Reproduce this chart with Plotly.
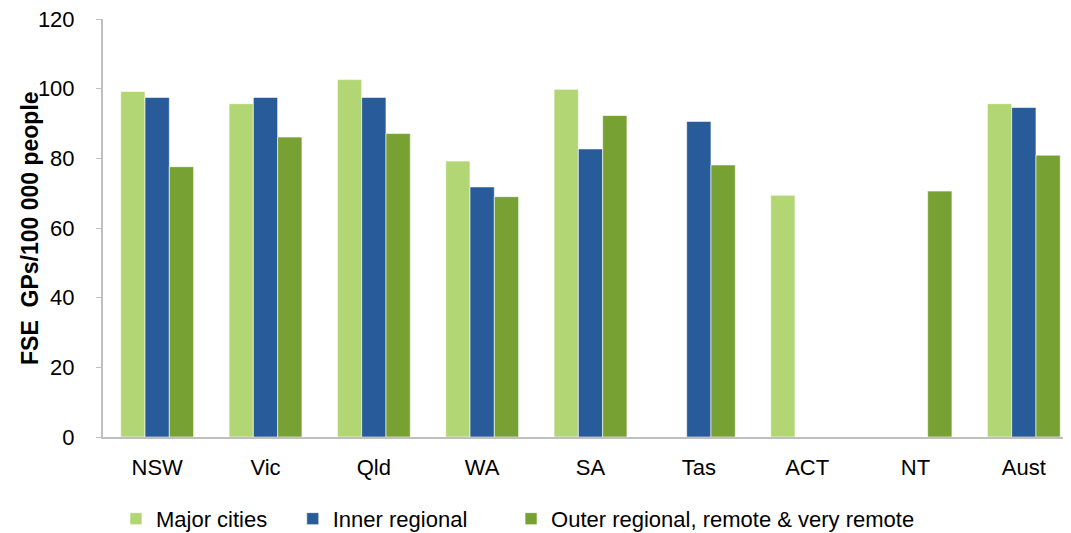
import plotly.graph_objects as go

states = ["NSW", "Vic", "Qld", "WA", "SA", "Tas", "ACT", "NT", "Aust"]
major_cities = [99.2, 95.7, 102.6, 79.2, 99.8, None, 69.4, None, 95.7]
inner_regional = [97.5, 97.5, 97.5, 71.8, 82.7, 90.6, None, None, 94.6]
outer_remote = [77.6, 86.1, 87.1, 69.0, 92.3, 78.1, None, 70.6, 80.9]

series = [
    ("Major cities", major_cities, "#B3D675", "legend"),
    ("Inner regional", inner_regional, "#275B9A", "legend2"),
    ("Outer regional, remote & very remote", outer_remote, "#77A132", "legend3"),
]

fig = go.Figure()
for name, vals, color, leg in series:
    fig.add_trace(go.Bar(
        x=states, y=vals, name=name, legend=leg,
        marker=dict(color=color, line=dict(color="rgba(255,255,255,0.6)", width=1)),
    ))

font = "Liberation Sans, Arial, sans-serif"


def legend_at(x):
    return dict(orientation="h", x=x, xanchor="left",
                yref="container", y=0.027, yanchor="middle",
                font=dict(size=22), itemwidth=30, bgcolor="rgba(0,0,0,0)")


# page body has an 8px margin; the original chart is cropped on the right
fig.update_layout(
    width=1071, height=525,
    margin=dict(l=95, r=1, t=11, b=96),
    plot_bgcolor="white", paper_bgcolor="white",
    barmode="group", bargap=0.327, bargroupgap=0,
    font=dict(family=font, size=22, color="#000000"),
    showlegend=True,
    legend=legend_at(0.0133),
    legend2=legend_at(0.1946),
    legend3=legend_at(0.4185),
    xaxis=dict(showline=True, linecolor="#BFBFBF", linewidth=2, ticks="",
               showgrid=False, tickfont=dict(size=22), automargin=False,
               ticklabelstandoff=10),
    yaxis=dict(range=[0, 120], dtick=20, showline=True, linecolor="#BFBFBF", linewidth=2,
               ticks="outside", ticklen=5, tickcolor="#BFBFBF", showgrid=False,
               zeroline=False, tickfont=dict(size=22), automargin=False,
               ticklabelstandoff=17, ticklabeloverflow="allow"),
    annotations=[dict(
        text="<b>FSE  GPs/100 000 people</b>", textangle=-90,
        xref="paper", yref="paper", x=-0.0749, y=0.5,
        xanchor="center", yanchor="middle", showarrow=False,
        font=dict(size=23, family=font),
    )],
)

fig.write_html("out.html")
